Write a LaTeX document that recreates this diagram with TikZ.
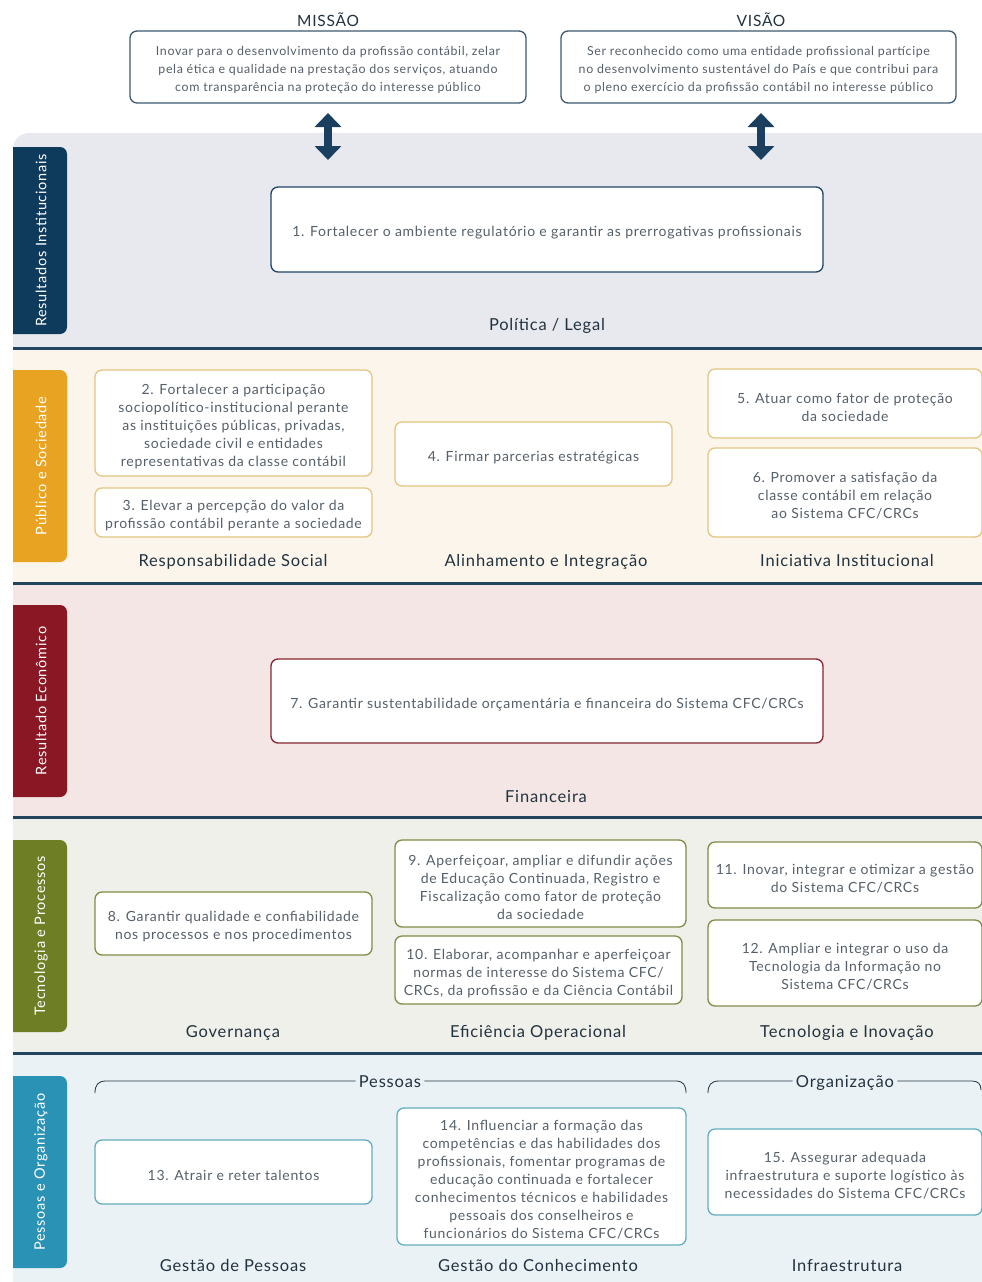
\documentclass[tikz,border=0pt]{standalone}
\usepackage{fontspec}
\setmainfont{Lato}[LetterSpace=5]
\usetikzlibrary{arrows.meta}
\definecolor{tabnavy}{HTML}{0E3A5C}
\definecolor{taborange}{HTML}{E9A322}
\definecolor{tabmaroon}{HTML}{8A1724}
\definecolor{tabolive}{HTML}{6E7E24}
\definecolor{tabteal}{HTML}{2A93B5}
\definecolor{bgone}{HTML}{E7E9EF}
\definecolor{bgtwo}{HTML}{FBF5EC}
\definecolor{bgthree}{HTML}{F3E6E4}
\definecolor{bgfour}{HTML}{EFF0EA}
\definecolor{bgfive}{HTML}{EAF2F6}
\definecolor{sepcol}{HTML}{23445E}
\definecolor{bdnavy}{HTML}{1E4466}
\definecolor{bdgold}{HTML}{E3C67F}
\definecolor{bdmaroon}{HTML}{8A2432}
\definecolor{bdolive}{HTML}{7F8C45}
\definecolor{bdteal}{HTML}{62AEBD}
\definecolor{bdmv}{HTML}{3E5A70}
\definecolor{boxtext}{HTML}{56606A}
\definecolor{labtext}{HTML}{22323F}
\definecolor{arrcol}{HTML}{1B3F5E}
\newcommand\myobj[7]{\node[box, draw=#6, minimum width=#4pt, minimum height=#5pt] (#1) at (#2,#3) {};
  \node[boxtxt] (#1t) at ([yshift=-3.5pt]#1.center) {#7};}
\begin{document}
\begin{tikzpicture}[x=1pt,y=-1pt,
  box/.style={line width=1.3pt, rounded corners=7pt, fill=white, inner sep=0pt},
  boxtxt/.style={align=center, inner sep=0pt, font=\fontsize{14}{18}\selectfont, text=boxtext},
  mvtxt/.style={boxtxt, font=\fontsize{12.4}{18}\selectfont},
  head/.style={font=\fontsize{15.5}{18}\selectfont, text=labtext},
  lab/.style={font=\fontsize{16.5}{18}\selectfont, text=labtext, anchor=base},
  tabtext/.style={font=\fontsize{14.5}{16}\selectfont, text=white, rotate=90},
  sepline/.style={draw=sepcol, line width=3pt},
  brk/.style={draw=labtext, line width=0.8pt},
  dblarrow/.style={draw=arrcol, line width=8pt, {Triangle[length=14pt,width=26pt]}-{Triangle[length=14pt,width=26pt]}}
]
\clip (0,0) rectangle (982,1282);
\fill[white] (0,0) rectangle (982,1282);
% section backgrounds
\fill[bgone, rounded corners=16pt] (13,133) rectangle (1020,400);
\fill[bgtwo] (13,348) rectangle (982,583);
\fill[bgthree] (13,583) rectangle (982,817);
\fill[bgfour] (13,817) rectangle (982,1053);
\fill[bgfive] (13,1053) rectangle (982,1282);
\draw[sepline] (13,348) -- (982,348);
\draw[sepline] (13,583) -- (982,583);
\draw[sepline] (13,817) -- (982,817);
\draw[sepline] (13,1053) -- (982,1053);
% tabs
\begin{scope}
\clip (13,0) rectangle (982,1282);
\fill[tabnavy, rounded corners=7pt] (0,147) rectangle (67,334);
\fill[taborange, rounded corners=7pt] (0,370) rectangle (67,562);
\fill[tabmaroon, rounded corners=7pt] (0,605) rectangle (67,797);
\fill[tabolive, rounded corners=7pt] (0,840) rectangle (67,1032);
\fill[tabteal, rounded corners=7pt] (0,1076) rectangle (67,1268);
\end{scope}
\node[tabtext] (t1) at (41,240.5) {Resultados Institucionais};
\node[tabtext] (t2) at (41,466) {Público e Sociedade};
\node[tabtext] (t3) at (41,701) {Resultado Econômico};
\node[tabtext] (t4) at (41,936) {Tecnologia e Processos};
\node[tabtext] (t5) at (41,1172) {Pessoas e Organização};
% mission / vision
\node[head] (hm) at (328,20) {MISSÃO};
\node[head] (hv) at (761,20) {VISÃO};
\node[box, draw=bdmv, minimum width=396pt, minimum height=72pt] (mis) at (328,67) {};
\node[mvtxt] (mist) at ([yshift=-3pt]mis.center) {Inovar para o desenvolvimento da profissão contábil, zelar\\pela ética e qualidade na prestação dos serviços, atuando\\com transparência na proteção do interesse público};
\node[box, draw=bdmv, minimum width=395pt, minimum height=72pt] (vis) at (758.5,67) {};
\node[mvtxt] (vist) at ([yshift=-3pt]vis.center) {Ser reconhecido como uma entidade profissional partícipe\\no desenvolvimento sustentável do País e que contribui para\\o pleno exercício da profissão contábil no interesse público};
\coordinate (ma1) at (328,113);
\coordinate (ma2) at (328,160);
\coordinate (va1) at (761,113);
\coordinate (va2) at (761,160);
\draw[dblarrow] (ma1) -- (ma2);
\draw[dblarrow] (va1) -- (va2);
% section 1
\myobj{o1}{547}{229.5}{552}{85}{bdnavy}{1. Fortalecer o ambiente regulatório e garantir as prerrogativas profissionais}
\node[lab] (l1) at (547,330) {Política / Legal};
% section 2
\myobj{o2}{233.5}{423}{277}{106}{bdgold}{2. Fortalecer a participação\\sociopolítico-institucional perante\\as instituições públicas, privadas,\\sociedade civil e entidades\\representativas da classe contábil}
\myobj{o3}{233.5}{512.5}{277}{49}{bdgold}{3. Elevar a percepção do valor da\\profissão contábil perante a sociedade}
\myobj{o4}{533.5}{454}{277}{64}{bdgold}{4. Firmar parcerias estratégicas}
\myobj{o5}{845}{403.5}{274}{69}{bdgold}{5. Atuar como fator de proteção\\da sociedade}
\myobj{o6}{845}{492.5}{274}{89}{bdgold}{6. Promover a satisfação da\\classe contábil em relação\\ao Sistema CFC/CRCs}
\node[lab] (l2a) at (233,566) {Responsabilidade Social};
\node[lab] (l2b) at (546,566) {Alinhamento e Integração};
\node[lab] (l2c) at (847,566) {Iniciativa Institucional};
% section 3
\myobj{o7}{547}{701}{552}{84}{bdmaroon}{7. Garantir sustentabilidade orçamentária e financeira do Sistema CFC/CRCs}
\node[lab] (l3) at (546,802) {Financeira};
% section 4
\myobj{o8}{233.5}{923.5}{277}{63}{bdolive}{8. Garantir qualidade e confiabilidade\\nos processos e nos procedimentos}
\myobj{o9}{540.5}{883.5}{291}{87}{bdolive}{9. Aperfeiçoar, ampliar e difundir ações\\de Educação Continuada, Registro e\\Fiscalização como fator de proteção\\da sociedade}
\myobj{o10}{538.5}{970}{287}{68}{bdolive}{10. Elaborar, acompanhar e aperfeiçoar\\normas de interesse do Sistema CFC/\\CRCs, da profissão e da Ciência Contábil}
\myobj{o11}{845}{875}{274}{66}{bdolive}{11. Inovar, integrar e otimizar a gestão\\do Sistema CFC/CRCs}
\myobj{o12}{845}{963}{274}{86}{bdolive}{12. Ampliar e integrar o uso da\\Tecnologia da Informação no\\Sistema CFC/CRCs}
\node[lab] (l4a) at (233,1037) {Governança};
\node[lab] (l4b) at (538,1037) {Eficiência Operacional};
\node[lab] (l4c) at (847,1037) {Tecnologia e Inovação};
% section 5
\node[lab, inner sep=3pt] (pes) at (390,1087) {Pessoas};
\node[lab, inner sep=3pt] (org) at (845,1087) {Organização};
\coordinate (pl) at (95,1093);
\coordinate (pr) at (686,1093);
\coordinate (ol) at (708,1093);
\coordinate (orr) at (981,1090);
\draw[brk] (pl) .. controls (95,1085) and (98,1081) .. (106,1081) -- (pes.west |- 0,1081);
\draw[brk] (pes.east |- 0,1081) -- (676,1081) .. controls (683,1081) and (686,1085) .. (pr);
\draw[brk] (ol) .. controls (708,1085) and (711,1081) .. (719,1081) -- (org.west |- 0,1081);
\draw[brk] (org.east |- 0,1081) -- (972,1081) .. controls (978,1081) and (981,1084) .. (orr);
\myobj{o13}{233.5}{1172}{277}{64}{bdteal}{13. Atrair e reter talentos}
\myobj{o14}{541.5}{1176.5}{289}{137}{bdteal}{14. Influenciar a formação das\\competências e das habilidades dos\\profissionais, fomentar programas de\\educação continuada e fortalecer\\conhecimentos técnicos e habilidades\\pessoais dos conselheiros e\\funcionários do Sistema CFC/CRCs}
\myobj{o15}{845}{1172}{274}{86}{bdteal}{15. Assegurar adequada\\infraestrutura e suporte logístico às\\necessidades do Sistema CFC/CRCs}
\node[lab] (l5a) at (233,1271) {Gestão de Pessoas};
\node[lab] (l5b) at (538,1271) {Gestão do Conhecimento};
\node[lab] (l5c) at (847,1271) {Infraestrutura};
\end{tikzpicture}
\end{document}
